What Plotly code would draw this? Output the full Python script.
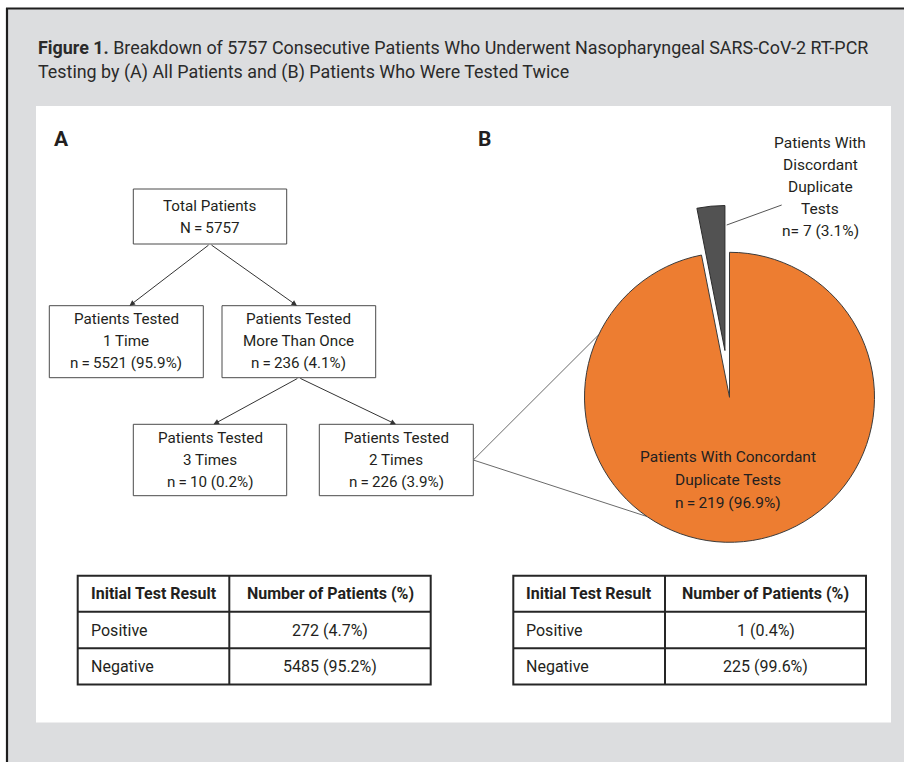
import math
import plotly.graph_objects as go

# ---------------- data ----------------
title_lines = [
    "<b>Figure 1.</b> Breakdown of 5757 Consecutive Patients Who Underwent Nasopharyngeal SARS-CoV-2 RT-PCR",
    "Testing by (A) All Patients and (B) Patients Who Were Tested Twice",
]
total_patients = 5757
group_names = ["1 Time", "More Than Once", "3 Times", "2 Times"]
group_counts = [5521, 236, 10, 226]
group_pcts = [95.9, 4.1, 0.2, 3.9]

pie_labels = ["Patients With Concordant Duplicate Tests", "Patients With Discordant Duplicate Tests"]
pie_values = [219, 7]
pie_pcts = [96.9, 3.1]

table_header = ["Initial Test Result", "Number of Patients (%)"]
table_results = ["Positive", "Negative"]
table_a_counts = [272, 5485]
table_a_pcts = [4.7, 95.2]
table_b_counts = [1, 225]
table_b_pcts = [0.4, 99.6]

# ---------------- style ----------------
W, H = 904, 762
FONT = "Roboto, Noto Sans, sans-serif"
TXT = "#231f20"
BOX_LINE = "#4a4a4a"
ORANGE = "#ed7d31"
DARK = "#525252"
GRAY_BG = "#dcdddf"

fig = go.Figure()
shapes = []
annos = []


def text(x, y, s, size=15.2, anchor="center", bold=False, color=TXT):
    if bold:
        s = "<b>" + s + "</b>"
    annos.append(dict(x=x, y=y, xref="x", yref="y", text=s, showarrow=False,
                      xanchor=anchor, yanchor="middle",
                      font=dict(family=FONT, size=size, color=color)))


def lines(x, yc, ls, spacing=22, size=15.2, anchor="center"):
    n = len(ls)
    for i, l in enumerate(ls):
        text(x, yc + (i - (n - 1) / 2) * spacing, l, size=size, anchor=anchor)


def rect(x0, y0, x1, y1, color=BOX_LINE, width=1, fill=None, layer="below"):
    shapes.append(dict(type="rect", xref="x", yref="y", x0=x0, y0=y0, x1=x1, y1=y1,
                       line=dict(color=color, width=width),
                       fillcolor=fill if fill else "rgba(0,0,0,0)", layer=layer))


def seg(x0, y0, x1, y1, color=BOX_LINE, width=1, layer="below"):
    shapes.append(dict(type="line", xref="x", yref="y", x0=x0, y0=y0, x1=x1, y1=y1,
                       line=dict(color=color, width=width), layer=layer))


def arrow(x0, y0, x1, y1):
    annos.append(dict(x=x1, y=y1, ax=x0, ay=y0, xref="x", yref="y", axref="x", ayref="y",
                      text="", showarrow=True, arrowhead=2, arrowsize=1.1, arrowwidth=1,
                      arrowcolor="#333333", standoff=0))


# background / frame
rect(6, 8, W + 5, H + 5, color="rgba(0,0,0,0)", width=0, fill=GRAY_BG)
seg(7, 8, 7, H + 5, color="#1e1e1e", width=2.2)
seg(6, 8.5, W + 5, 8.5, color="#1e1e1e", width=2.2)
rect(36, 106, 891, 722.5, color="rgba(0,0,0,0)", width=0, fill="white")

# title
text(36, 47, title_lines[0], size=17.9, anchor="left", color="#2a2a2a")
text(36, 72, title_lines[1], size=17.9, anchor="left", color="#2a2a2a")

# panel letters
text(61, 139, "A", size=21, bold=True)
text(484, 139, "B", size=21, bold=True)

# ---------------- flowchart ----------------
boxes = {
    "total": (133.3, 189, 286.7, 244),
    "g0": (49.3, 305.7, 203.3, 377.7),
    "g1": (222, 305.7, 375.7, 377.7),
    "g2": (133.3, 424.3, 286.7, 495.7),
    "g3": (319.3, 424.3, 473.3, 495.7),
}
for b in boxes.values():
    rect(*b, width=1)

def cx(b):
    return (b[0] + b[2]) / 2

def cy(b):
    return (b[1] + b[3]) / 2

bt = boxes["total"]
lines(cx(bt), cy(bt), ["Total Patients", f"N\u2009=\u2009{total_patients}"], spacing=22)
for i, key in enumerate(["g0", "g1", "g2", "g3"]):
    b = boxes[key]
    lines(cx(b), cy(b) - 0.5, ["Patients Tested", group_names[i],
                               f"n\u2009=\u2009{group_counts[i]} ({group_pcts[i]}%)"], spacing=22)

arrow(cx(bt), bt[3], 129.5, 305.7)
arrow(cx(bt), bt[3], 297, 305.7)
b1 = boxes["g1"]
arrow(cx(b1), b1[3], 213.5, 424.3)
arrow(cx(b1), b1[3], 396, 424.3)

# ---------------- pie ----------------
PCX, PCY, PR = 729.5, 397.3, 145.0
PULL_PX = 47.0


def dom(cxp, cyp, r):
    return dict(x=[(cxp - r) / W, (cxp + r) / W], y=[1 - (cyp + r) / H, 1 - (cyp - r) / H])

# angle (clockwise from 12 o'clock) of the bisector of the discordant slice
frac = pie_values[1] / sum(pie_values)
theta = 2 * math.pi * (1 - frac / 2)
pcx2 = PCX + PULL_PX * math.sin(theta)
pcy2 = PCY - PULL_PX * math.cos(theta)

clear = "rgba(0,0,0,0)"
fig.add_trace(go.Pie(values=pie_values, labels=pie_labels, sort=False, direction="clockwise",
                     rotation=0, textinfo="none", hoverinfo="skip", showlegend=False,
                     marker=dict(colors=[ORANGE, clear], line=dict(color=["#3b3b3b", clear], width=1)),
                     domain=dom(PCX, PCY, PR)))
fig.add_trace(go.Pie(values=pie_values, labels=pie_labels, sort=False, direction="clockwise",
                     rotation=0, textinfo="none", hoverinfo="skip", showlegend=False,
                     marker=dict(colors=[clear, DARK], line=dict(color=[clear, "#2b2b2b"], width=1)),
                     domain=dom(pcx2, pcy2, PR)))

# zoom lines from box "2 Times" to pie edge
b3 = boxes["g3"]
for ang in [-64.5, -145.3]:
    a = math.radians(ang)
    seg(b3[2], cy(b3), PCX + PR * math.sin(a), PCY - PR * math.cos(a), color="#6a6a6a", width=1)

lines(728, 480, ["Patients With Concordant", "Duplicate Tests",
                 f"n\u2009=\u2009{pie_values[0]} ({pie_pcts[0]}%)"], spacing=23, size=15.5)
lines(820, 187, ["Patients With", "Discordant", "Duplicate", "Tests",
                 f"n= {pie_values[1]} ({pie_pcts[1]}%)"], spacing=22, size=15.5)
seg(726.7, 225, 781.7, 205, color="#555555", width=1)

# ---------------- tables ----------------
def table(x0, xm, x1, counts, pcts):
    ys = [575.7, 611.8, 648.3, 684.6]
    TL = "#262626"
    rect(x0, ys[0], x1, ys[-1], color=TL, width=2)
    seg(xm, ys[0], xm, ys[-1], color=TL, width=2)
    for y in ys[1:-1]:
        seg(x0, y, x1, y, color=TL, width=2)
    ctr = (xm + x1) / 2
    text(x0 + 11, (ys[0] + ys[1]) / 2, table_header[0], size=16, anchor="left", bold=True)
    text(ctr, (ys[0] + ys[1]) / 2, table_header[1], size=16, bold=True)
    for i in range(2):
        yc = (ys[i + 1] + ys[i + 2]) / 2
        text(x0 + 11, yc, table_results[i], size=16, anchor="left")
        text(ctr, yc, f"{counts[i]} ({pcts[i]}%)", size=16)

table(77.7, 229.3, 430.7, table_a_counts, table_a_pcts)
table(513.3, 665.0, 866.0, table_b_counts, table_b_pcts)

fig.update_layout(
    width=W, height=H, margin=dict(l=0, r=0, t=0, b=0),
    paper_bgcolor="white", plot_bgcolor="rgba(0,0,0,0)",
    xaxis=dict(range=[0, W], visible=False, fixedrange=True),
    yaxis=dict(range=[H, 0], visible=False, fixedrange=True),
    shapes=shapes, annotations=annos, showlegend=False,
)
fig.write_html("out.html", config={"displayModeBar": False},
               post_script="document.body.style.margin='0';document.body.style.padding='0';")
